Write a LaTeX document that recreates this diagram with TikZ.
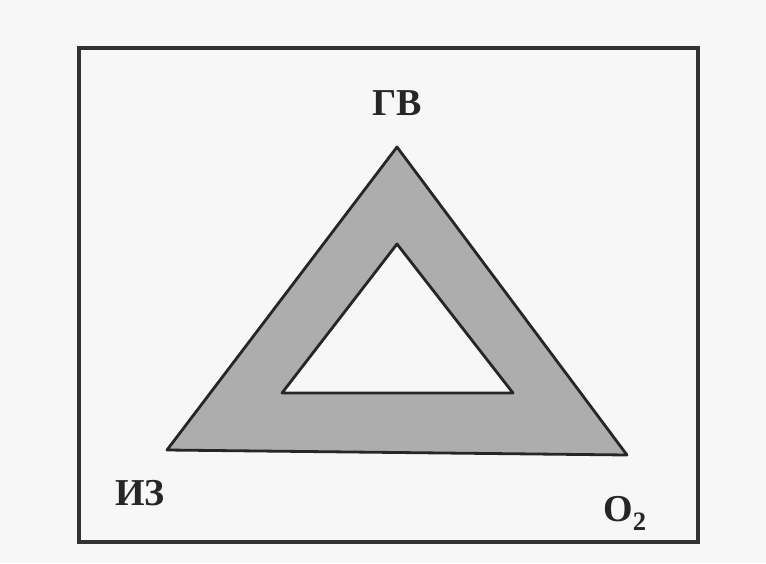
\documentclass[tikz,border=0pt]{standalone}
\usepackage{fontspec}
\setmainfont{Liberation Serif}
\begin{document}
\begin{tikzpicture}[x=1pt,y=-1pt,
  frame/.style={draw=black!80,line width=3.6pt},
  tri/.style={draw=black!85,line width=2.8pt,line join=round},
  lbl/.style={font=\bfseries\fontsize{38}{42}\selectfont,text=black!85,inner sep=0pt}]
\useasboundingbox (0,0) rectangle (766,563);
\fill[black!3] (0,0) rectangle (766,563);
\draw[frame] (79,48) rectangle (698,542);
\coordinate (A) at (397,147);
\coordinate (B) at (167,450);
\coordinate (C) at (627,455);
\coordinate (a) at (397,244);
\coordinate (b) at (282,393);
\coordinate (c) at (513,393);
\fill[black!32,even odd rule] (A) -- (B) -- (C) -- cycle (a) -- (b) -- (c) -- cycle;
\draw[tri] (A) -- (B) -- (C) -- cycle;
\draw[tri] (a) -- (b) -- (c) -- cycle;
\node[lbl] (gv) at (397,103) {ГВ};
\node[lbl] (iz) at (140,493) {ИЗ};
\node[lbl,anchor=base west] (o2) at (603,521) {O\textsubscript{2}};
\end{tikzpicture}
\end{document}
